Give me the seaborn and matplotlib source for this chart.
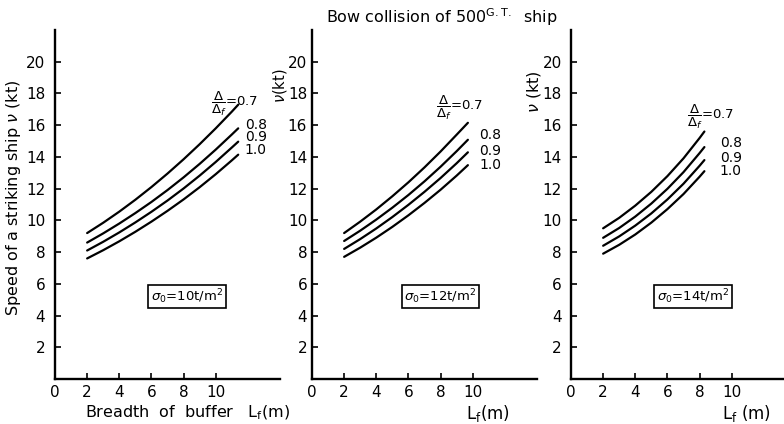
import matplotlib
matplotlib.use("Agg")
import matplotlib.pyplot as plt
import seaborn as sns
import pandas as pd

# ---------------- data ----------------
ratios = ["0.7", "0.8", "0.9", "1.0"]
sigma_labels = ["10", "12", "14"]

x_s10 = [2, 3, 4, 5, 6, 7, 8, 9, 10, 11, 11.4]
v_s10_07 = [9.2, 9.85, 10.55, 11.3, 12.1, 12.95, 13.85, 14.8, 15.8, 16.85, 17.29]
v_s10_08 = [8.6, 9.18, 9.8, 10.46, 11.16, 11.91, 12.71, 13.56, 14.46, 15.41, 15.8]
v_s10_09 = [8.1, 8.65, 9.24, 9.87, 10.54, 11.25, 12.01, 12.82, 13.68, 14.59, 14.96]
v_s10_10 = [7.6, 8.12, 8.68, 9.28, 9.92, 10.6, 11.32, 12.09, 12.91, 13.78, 14.14]

x_s12 = [2, 3, 4, 5, 6, 7, 8, 9, 9.7]
v_s12_07 = [9.2, 9.92, 10.69, 11.52, 12.4, 13.34, 14.34, 15.4, 16.15]
v_s12_08 = [8.7, 9.35, 10.05, 10.8, 11.6, 12.46, 13.38, 14.36, 15.08]
v_s12_09 = [8.2, 8.82, 9.49, 10.21, 10.98, 11.8, 12.67, 13.6, 14.29]
v_s12_10 = [7.7, 8.28, 8.91, 9.59, 10.32, 11.1, 11.93, 12.82, 13.48]

x_s14 = [2, 3, 4, 5, 6, 7, 8, 8.3]
v_s14_07 = [9.5, 10.16, 10.93, 11.8, 12.79, 13.91, 15.19, 15.6]
v_s14_08 = [8.9, 9.52, 10.24, 11.06, 11.99, 13.04, 14.24, 14.62]
v_s14_09 = [8.4, 8.99, 9.67, 10.44, 11.32, 12.31, 13.44, 13.8]
v_s14_10 = [7.9, 8.46, 9.11, 9.86, 10.71, 11.66, 12.75, 13.1]

x_ticks = [0, 2, 4, 6, 8, 10]
x_ticklabels = ["0", "2", "4", "6", "8", "10"]
y_ticks = [2, 4, 6, 8, 10, 12, 14, 16, 18, 20]

panels = [
    (x_s10, [v_s10_07, v_s10_08, v_s10_09, v_s10_10]),
    (x_s12, [v_s12_07, v_s12_08, v_s12_09, v_s12_10]),
    (x_s14, [v_s14_07, v_s14_08, v_s14_09, v_s14_10]),
]

# ---------------- styling ----------------
sns.set_theme(style="ticks")
plt.rcParams["font.family"] = ["DejaVu Sans"]
plt.rcParams["mathtext.fontset"] = "dejavusans"
plt.rcParams["text.color"] = "black"

W, H = 784, 424
fig = plt.figure(figsize=(W / 100, H / 100), dpi=100)

ax_lefts_px = [55, 312, 571]
ax_w_px = 225
ax_bottom_px = 379
ax_top_px = 30
ytick_pads = [7, 3.5, 6.5]

# positions of annotations (data coords)
frac_pos = [(9.7, 17.35), (7.7, 17.1), (7.2, 16.5)]
lab_pos = [
    (11.8, [15.87, 15.24, 14.6]),
    (10.4, [15.35, 14.36, 13.5]),
    (9.25, [14.85, 13.96, 13.1]),
]
box_pos = [(8.2, 5.2), (8.0, 5.2), (7.6, 5.2)]

for i, (xs, series) in enumerate(panels):
    left = ax_lefts_px[i] / W
    ax = fig.add_axes([left, (H - ax_bottom_px) / H, ax_w_px / W,
                       (ax_bottom_px - ax_top_px) / H])
    rows = []
    for r, vals in zip(ratios, series):
        for x, v in zip(xs, vals):
            rows.append({"L": x, "v": v, "ratio": r})
    df = pd.DataFrame(rows)
    sns.lineplot(data=df, x="L", y="v", hue="ratio", palette=["black"] * 4,
                 estimator=None, legend=False, ax=ax, linewidth=1.6)
    ax.set_xlim(0, 14)
    ax.set_ylim(0, 22)
    ax.set_xticks(x_ticks)
    ax.set_xticklabels(x_ticklabels)
    ax.set_yticks(y_ticks)
    ax.set_xlabel("")
    ax.set_ylabel("")
    for s in ["top", "right"]:
        ax.spines[s].set_visible(False)
    for s in ["left", "bottom"]:
        ax.spines[s].set_linewidth(1.7)
        ax.spines[s].set_color("black")
    ax.tick_params(axis="both", direction="in", length=4, width=1.2,
                   colors="black", labelsize=11)
    ax.tick_params(axis="y", pad=ytick_pads[i])
    ax.tick_params(axis="x", pad=4)
    ax.patch.set_alpha(0)

    fx, fy = frac_pos[i]
    ax.text(fx, fy, r"$\dfrac{\Delta}{\Delta_f}$=0.7", ha="left", va="center",
            fontsize=9.5, color="black")
    lx, lys = lab_pos[i]
    if i == 0:
        ax.text(lx, lys[1], "\n".join(ratios[1:]), ha="left", va="center",
                fontsize=10, linespacing=0.85, color="black")
    else:
        for r, ly in zip(ratios[1:], lys):
            ax.text(lx, ly, r, ha="left", va="center", fontsize=10,
                    color="black")
    bx, by = box_pos[i]
    ax.text(bx, by, r"$\sigma_0$=" + sigma_labels[i] + r"t/m$^2$",
            ha="center", va="center", fontsize=9.5, color="black",
            bbox=dict(boxstyle="square,pad=0.2", fc="white", ec="black", lw=1.2))

# axis labels and title
fig.text(14 / W, 1 - 198 / H, r"Speed of a striking ship $\nu$ (kt)",
         rotation=90, ha="center", va="center", fontsize=11.5)
fig.text(280 / W, 1 - 86 / H, r"$\nu$(kt)", rotation=90, ha="center",
         va="center", fontsize=10.5)
fig.text(534 / W, 1 - 92 / H, r"$\nu$ (kt)", rotation=90, ha="center",
         va="center", fontsize=11.5)

xl_y = 1 - 413 / H
fig.text(187 / W, xl_y, r"Breadth  of  buffer   $\mathrm{L_f}$(m)",
         ha="center", va="center", fontsize=11.5)
fig.text(488 / W, xl_y, r"$\mathrm{L_f}$(m)", ha="center",
         va="center", fontsize=12)
fig.text(747 / W, xl_y, r"$\mathrm{L_f}$ (m)", ha="center",
         va="center", fontsize=12)

fig.text(442 / W, 1 - 17 / H, r"Bow collision of 500$^{\mathrm{G.T.}}$  ship",
         ha="center", va="center", fontsize=11.5)

fig.savefig("out.png", dpi=100)
